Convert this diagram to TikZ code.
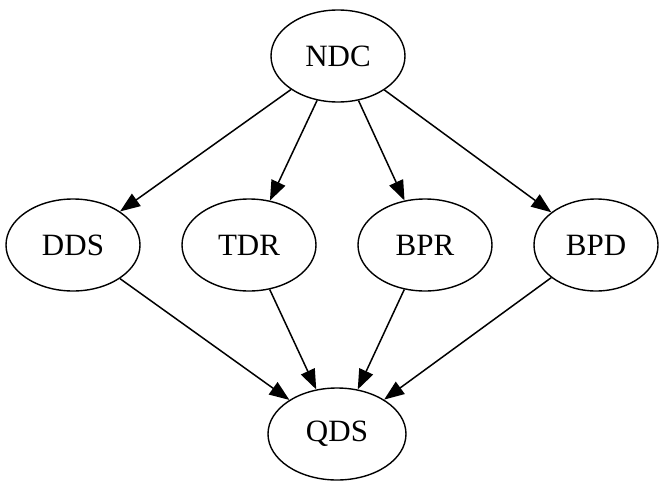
\documentclass[tikz,border=0pt]{standalone}
\usepackage{fontspec}
\setmainfont{Liberation Serif}
\usetikzlibrary{shapes.geometric,arrows.meta}
\begin{document}
\begin{tikzpicture}[x=1pt,y=-1pt,
  vnode/.style={draw, ellipse, line width=1.4pt, inner sep=0pt,
    minimum width=134pt, minimum height=92pt,
    font=\fontsize{31}{36}\selectfont},
  edge/.style={line width=1.5pt, -{Triangle[length=20pt,width=15pt]}}]
\useasboundingbox (0,0) rectangle (659,482);
\node[vnode] (NDC) at (338,56) {NDC};
\node[vnode] (DDS) at (73,245) {DDS};
\node[vnode] (TDR) at (249,245) {TDR};
\node[vnode] (BPR) at (425,245) {BPR};
\node[vnode, minimum width=124pt] (BPD) at (596,245) {BPD};
\node[vnode, minimum width=138pt] (QDS) at (337,434) {QDS};
\draw[edge] (NDC) -- (DDS);
\draw[edge] (NDC) -- (TDR);
\draw[edge] (NDC) -- (BPR);
\draw[edge] (NDC) -- (BPD);
\draw[edge] (DDS) -- (QDS);
\draw[edge] (TDR) -- (QDS);
\draw[edge] (BPR) -- (QDS);
\draw[edge] (BPD) -- (QDS);
\end{tikzpicture}
\end{document}
